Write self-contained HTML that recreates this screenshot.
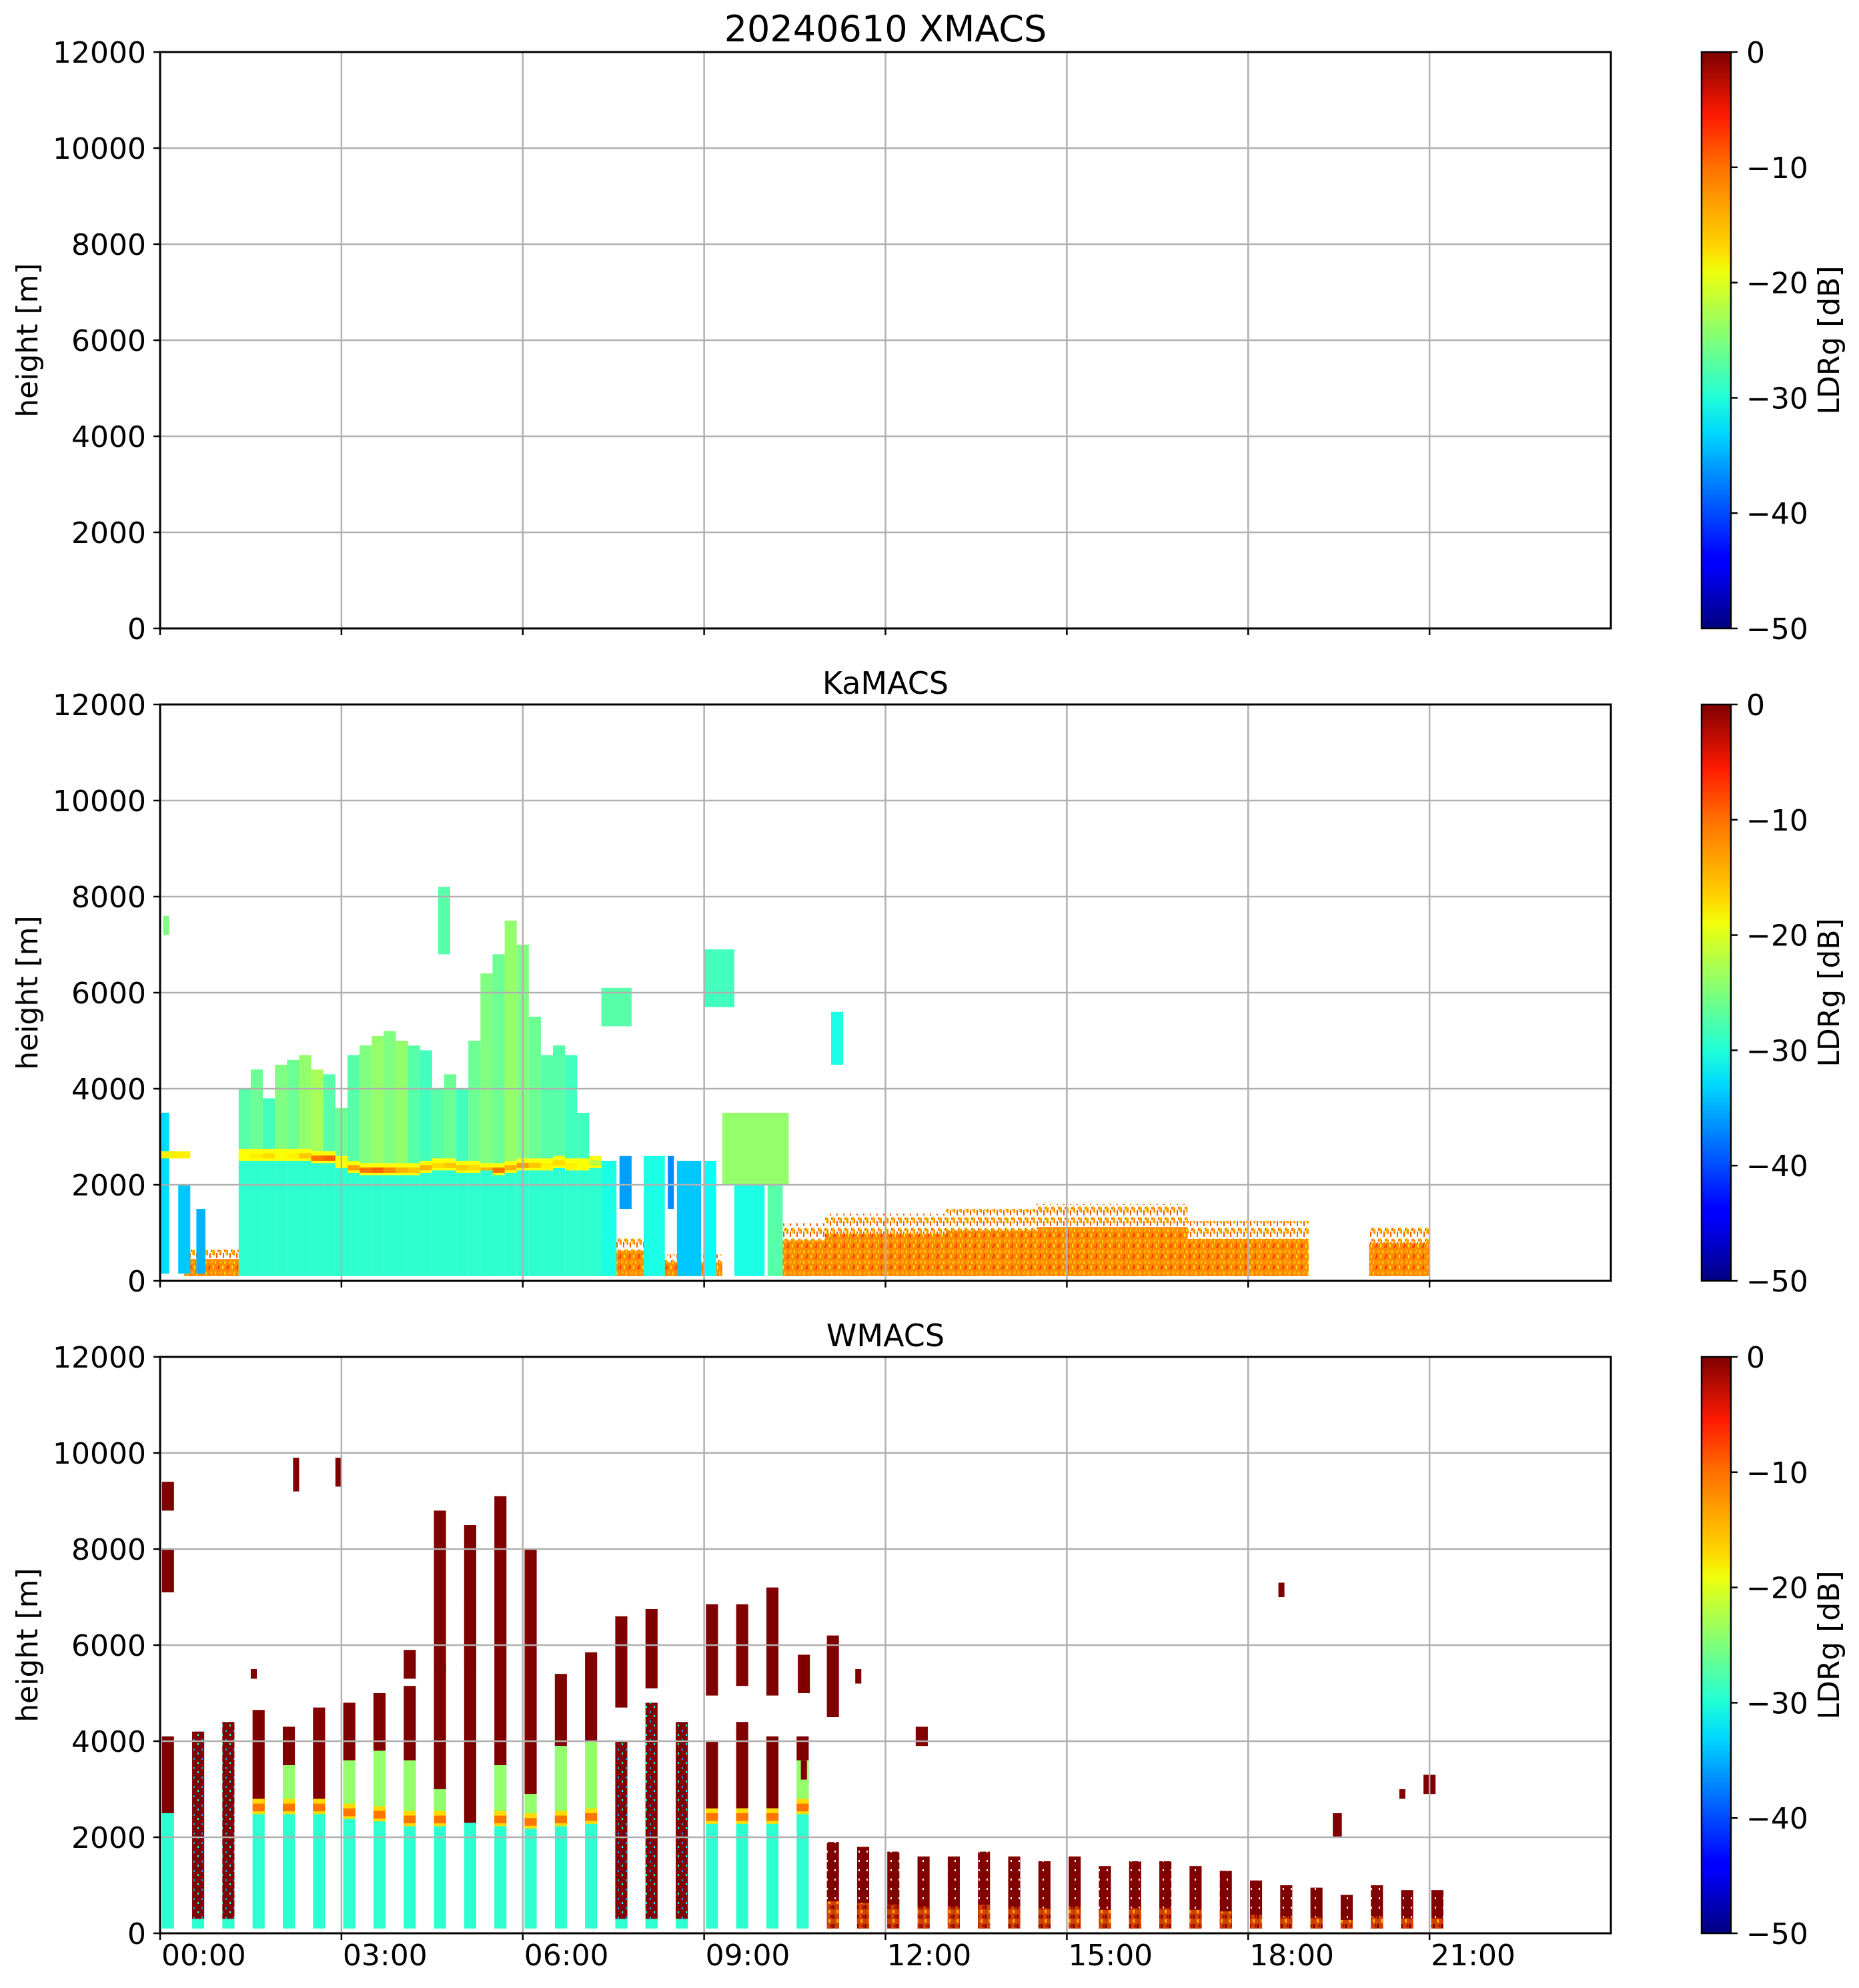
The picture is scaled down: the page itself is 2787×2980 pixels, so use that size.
<!DOCTYPE html>
<html><head><meta charset="utf-8">
<style>
html,body{margin:0;padding:0;background:#fff;}
svg{display:block;font-family:"DejaVu Sans","Liberation Sans",sans-serif;}
</style></head>
<body>
<svg id="fig" width="2787" height="2980" viewBox="0 0 2787 2980" xmlns="http://www.w3.org/2000/svg">
<defs>
<linearGradient id="jet" x1="0" y1="1" x2="0" y2="0">
<stop offset="0" stop-color="#00007f"/><stop offset="0.11" stop-color="#0000ff"/><stop offset="0.125" stop-color="#0000ff"/>
<stop offset="0.34" stop-color="#00d8ff"/><stop offset="0.4" stop-color="#1fffd8"/><stop offset="0.5" stop-color="#7dff7a"/>
<stop offset="0.62" stop-color="#f0ff0a"/><stop offset="0.66" stop-color="#ffd800"/><stop offset="0.8" stop-color="#ff7000"/>
<stop offset="0.89" stop-color="#ff1a00"/><stop offset="1" stop-color="#7f0000"/>
</linearGradient>
<pattern id="kaSpk" width="14" height="16" patternUnits="userSpaceOnUse">
<rect width="14" height="16" fill="#ff8a00"/><rect x="0" y="2" width="2" height="5" fill="#ffd000"/><rect x="5" y="8" width="2" height="6" fill="#ff3a00"/>
<rect x="9" y="1" width="2" height="4" fill="#ffb000"/><rect x="11" y="9" width="2" height="5" fill="#ffe600"/><rect x="3" y="12" width="2" height="3" fill="#ff5000"/><rect x="7" y="3" width="2" height="3" fill="#ffb000"/>
</pattern>
<pattern id="kaSpkLight" width="10" height="16" patternUnits="userSpaceOnUse">
<rect x="0" y="2" width="2" height="8" fill="#ff9000"/><rect x="4" y="6" width="2" height="8" fill="#ff5a00"/><rect x="8" y="0" width="2" height="9" fill="#ffc000"/><rect x="6" y="1" width="2" height="4" fill="#ff7000"/>
</pattern>
<pattern id="wMix" width="12" height="14" patternUnits="userSpaceOnUse">
<rect width="12" height="14" fill="#800000"/><rect x="2" y="3" width="2" height="3" fill="#1aa0ff"/><rect x="8" y="9" width="2" height="3" fill="#20ffe0"/>
</pattern>
<pattern id="wSpk" width="12" height="14" patternUnits="userSpaceOnUse">
<rect width="12" height="14" fill="#800000"/><rect x="3" y="2" width="2" height="3" fill="#ffffff"/>
</pattern>
<pattern id="wSpkLow" width="12" height="14" patternUnits="userSpaceOnUse">
<rect width="12" height="14" fill="#d04000"/><rect x="0" y="0" width="3" height="6" fill="#800000"/><rect x="6" y="7" width="3" height="5" fill="#ffb000"/><rect x="9" y="1" width="2" height="4" fill="#a00000"/>
</pattern>
</defs>
<g id="root"></g>
</svg>
<script>
// ---------- axis geometry ----------
const AX_L = 240, AX_R = 2415, AX_H = 864;
const PANEL_TOPS = [78, 1056, 2034];
const CB_L = 2551, CB_R = 2595;
const yTicks = [0, 2000, 4000, 6000, 8000, 10000, 12000];
const xTicksHour = [0, 3, 6, 9, 12, 15, 18, 21];
const xTickLabels = ["00:00", "03:00", "06:00", "09:00", "12:00", "15:00", "18:00", "21:00"];
const cbTicks = [0, -10, -20, -30, -40, -50];
const panelTitles = ["20240610 XMACS", "KaMACS", "WMACS"];

// ---------- KaMACS data ----------
const kaColT = [1.3,1.5,1.7,1.9,2.1,2.3,2.5,2.7,2.9,3.1,3.3,3.5,3.7,3.9,4.1,4.3,4.5,4.7,4.9,5.1,5.3,5.5,5.7,5.9,6.1,6.3,6.5,6.7,6.9,7.1];
const kaColTop = [4000,4400,3800,4500,4600,4700,4400,4300,3600,4700,4900,5100,5200,5000,4900,4800,4000,4300,4000,5000,6400,6800,7500,7000,5500,4700,4900,4700,3500,2600];
const kaColV = [-27,-26,-28,-25,-26,-24,-23,-27,-26,-27,-25,-24,-25,-24,-27,-28,-27,-26,-28,-26,-25,-26,-24,-25,-26,-27,-27,-28,-28,-29];
const kaMeltH = [2600,2600,2600,2600,2600,2600,2550,2550,2450,2350,2300,2300,2300,2300,2300,2350,2400,2400,2350,2350,2300,2300,2350,2400,2400,2400,2450,2400,2400,2450];
const kaMeltV = [-19,-18,-17,-19,-18,-16,-12,-11,-19,-14,-12,-11,-13,-15,-16,-15,-17,-16,-16,-17,-15,-12,-15,-14,-16,-18,-17,-18,-19,-22];
const kaPatchT0 = [0.0,0.3,0.6,0.0,7.3,7.6,8.0,8.4,8.55,9.0,9.5,10.05,9.3,9.0,11.1,7.3,4.6,0.05,5.3];
const kaPatchT1 = [0.15,0.5,0.75,0.5,7.55,7.8,8.35,8.5,8.95,9.2,10.0,10.3,10.4,9.5,11.3,7.8,4.8,0.15,5.5];
const kaPatchH0 = [150,150,150,2550,100,1500,100,1500,100,100,100,100,2000,5700,4500,5300,6800,7200,100];
const kaPatchH1 = [3500,2000,1500,2700,2500,2600,2600,2600,2500,2500,2500,2600,3500,6900,5600,6100,8200,7600,2300];
const kaPatchV = [-33,-34,-35,-18,-30,-36,-30,-37,-34,-31,-30,-27,-24,-28,-30,-27,-27,-25,-29];
const kaSpkT0 = [0.4,7.2,8.0,10.3,11.0,13.0,14.5,17.0,20.0];
const kaSpkT1 = [1.35,8.0,9.3,11.0,13.0,14.5,17.0,19.0,21.0];
const kaSpkTop = [650,900,550,1200,1400,1500,1600,1250,1120];

// ---------- WMACS data ----------
const wT = [0.03,0.53,1.03,1.53,2.03,2.53,3.03,3.53,4.03,4.53,5.03,5.53,6.03,6.53,7.03,7.53,8.03,8.53,9.03,9.53,10.03,10.53,11.03,11.53,
            12.03,12.53,13.03,13.53,14.03,14.53,15.03,15.53,16.03,16.53,17.03,17.53,18.03,18.53,19.03,19.53,20.03,20.53,21.03];
const wTop = [4100,4200,4400,4650,4300,4700,4800,5000,5150,8800,8500,9100,8000,5400,5850,4000,4800,4400,4000,4400,4100,4100,1900,1800,
              1700,1600,1600,1700,1600,1500,1600,1400,1500,1500,1400,1300,1100,1000,950,800,1000,900,900];
const wRedBot = [2500,300,300,2700,3500,2600,3600,3800,3600,3000,2300,3500,2900,3900,4000,300,300,300,2500,2600,2600,3600,0,0,
                 0,0,0,0,0,0,0,0,0,0,0,0,0,0,0,0,0,0,0];
const wMelt = [0,0,0,2600,2600,2600,2500,2450,2350,2350,0,2350,2300,2350,2400,0,0,0,2400,2400,2400,2600,0,0,
               0,0,0,0,0,0,0,0,0,0,0,0,0,0,0,0,0,0,0];
const wPatchT0 = [0.03,0.03,1.5,2.2,2.9,7.53,8.03,9.03,9.53,10.03,11.03,10.55,10.6,11.5,12.5,19.4,20.5,20.9,18.5,4.03,4.53,5.03];
const wPatchT1 = [0.23,0.23,1.6,2.3,3.0,7.73,8.23,9.23,9.73,10.23,11.23,10.75,10.7,11.6,12.7,19.55,20.6,21.1,18.6,4.23,4.73,5.23];
const wPatchH0 = [7100,8800,5300,9200,9300,4700,5100,4950,5150,4950,4500,5000,3200,5200,3900,2000,2800,2900,7000,5300,5400,5500];
const wPatchH1 = [8000,9400,5500,9900,9900,6600,6750,6850,6850,7200,6200,5800,3600,5500,4300,2500,3000,3300,7300,5900,5600,6900];

// ---------- helpers ----------
const NS = "http://www.w3.org/2000/svg";
const root = document.getElementById("root");
function X(t){ return AX_L + t / 24 * (AX_R - AX_L); }
function Y(p, h){ return PANEL_TOPS[p] + AX_H * (1 - h / 12000); }
function CBY(p, v){ return PANEL_TOPS[p] + AX_H * (-v / 50); }
function jet(v){
  const x = Math.max(0, Math.min(1, (v + 50) / 50));
  const r = Math.max(0, Math.min(1, Math.min(4*x - 1.5, -4*x + 4.5)));
  const g = Math.max(0, Math.min(1, Math.min(4*x - 0.5, -4*x + 3.5)));
  const b = Math.max(0, Math.min(1, Math.min(4*x + 0.5, -4*x + 2.5)));
  return "rgb(" + Math.round(r*255) + "," + Math.round(g*255) + "," + Math.round(b*255) + ")";
}
function el(tag, attrs, parent){
  const e = document.createElementNS(NS, tag);
  for (const k in attrs) e.setAttribute(k, attrs[k]);
  (parent || root).appendChild(e);
  return e;
}
function rect(p, t0, t1, h0, h1, fill, name, parent){
  const r = el("rect", {x: X(t0), y: Y(p, h1), width: Math.max(1, X(t1) - X(t0)), height: Math.max(1, Y(p, h0) - Y(p, h1)), fill: fill}, parent);
  
  
  return r;
}

for (let p = 0; p < 3; p++){
  const top = PANEL_TOPS[p];
  const g = el("g", {});
  
  
  const data = el("g", {}, g);
  
  

  if (p === 1){
    for (let i = 0; i < kaSpkT0.length; i++){
      rect(1, kaSpkT0[i], kaSpkT1[i], 100, kaSpkTop[i]*0.7, "url(#kaSpk)", "ka-precip-speckle", data);
      rect(1, kaSpkT0[i], kaSpkT1[i], kaSpkTop[i]*0.7, kaSpkTop[i], "url(#kaSpkLight)", "ka-precip-speckle-top", data);
    }
    for (let i = 0; i < kaColT.length; i++){
      const t0 = kaColT[i], t1 = t0 + 0.2;
      rect(1, t0, t1, 100, kaMeltH[i] - 100, jet(-29), "ka-cyan-base", data);
      rect(1, t0, t1, kaMeltH[i] + 150, kaColTop[i], jet(kaColV[i]), "ka-ice-cloud", data);
      rect(1, t0, t1, kaMeltH[i] - 100, kaMeltH[i] + 150, jet(-19), "ka-melting-band", data);
      rect(1, t0, t1, kaMeltH[i] - 50, kaMeltH[i] + 60, jet(kaMeltV[i]), "ka-melting-core", data);
    }
    for (let i = 0; i < kaPatchT0.length; i++){
      rect(1, kaPatchT0[i], kaPatchT1[i], kaPatchH0[i], kaPatchH1[i], jet(kaPatchV[i]), "ka-cloud-patch", data);
    }
  }
  if (p === 2){
    for (let i = 0; i < wT.length; i++){
      const t0 = wT[i], t1 = t0 + 0.2;
      if (i >= 22){
        rect(2, t0, t1, 100, wTop[i], "url(#wSpk)", "w-stripe-speckle", data);
        rect(2, t0, t1, 100, wTop[i]*0.35, "url(#wSpkLow)", "w-stripe-speckle-low", data);
        continue;
      }
      const rb = Math.max(100, wRedBot[i]);
      if (rb > 100) rect(2, t0, t1, 100, rb, jet(-29), "w-cyan-column", data);
      rect(2, t0, t1, rb, wTop[i], rb > 400 ? "#800000" : "url(#wMix)", "w-red-column", data);
      if (wMelt[i] > 0){
        rect(2, t0, t1, wMelt[i] + 200, Math.min(rb, wTop[i]), jet(-24), "w-above-melt", data);
        rect(2, t0, t1, wMelt[i] - 120, wMelt[i] + 200, jet(-17), "w-melting-band", data);
        rect(2, t0, t1, wMelt[i] - 60, wMelt[i] + 100, jet(-12), "w-melting-core", data);
      }
    }
    for (let i = 0; i < wPatchT0.length; i++){
      rect(2, wPatchT0[i], wPatchT1[i], wPatchH0[i], wPatchH1[i], "#800000", "w-red-patch", data);
    }
  }

  const grid = el("g", {stroke: "#b0b0b0", "stroke-width": 2.5}, g);
  
  
  for (const h of yTicks){ if (h === 0 || h === 12000) continue; el("line", {x1: AX_L, x2: AX_R, y1: Y(p,h), y2: Y(p,h)}, grid); }
  for (const t of xTicksHour){ if (t === 0) continue; el("line", {x1: X(t), x2: X(t), y1: top, y2: top + AX_H}, grid); }

  const fr = el("rect", {x: AX_L, y: top, width: AX_R - AX_L, height: AX_H, fill: "none", stroke: "#000", "stroke-width": 3}, g);
  
  

  for (const h of yTicks){
    const y = Y(p, h);
    el("line", {x1: AX_L - 10, x2: AX_L, y1: y, y2: y, stroke: "#000", "stroke-width": 2.5}, g);
    const tx = el("text", {x: 219, y: y + 16, "font-size": 44, "text-anchor": "end"}, g);
    tx.textContent = h;
    
    
  }
  for (let i = 0; i < xTicksHour.length; i++){
    const x = X(xTicksHour[i]);
    el("line", {x1: x, x2: x, y1: top + AX_H, y2: top + AX_H + 10, stroke: "#000", "stroke-width": 2.5}, g);
    if (p === 2){
      const tx = el("text", {x: x + 2, y: top + AX_H + 48, "font-size": 44}, g);
      tx.textContent = xTickLabels[i];
      
      
    }
  }
  const yl = el("text", {x: 0, y: 0, "font-size": 44, "text-anchor": "middle", transform: "translate(56," + (top + AX_H/2) + ") rotate(-90)"}, g);
  yl.textContent = "height [m]";
  
  
  const tt = el("text", {x: (AX_L + AX_R)/2, y: top - 16, "font-size": p === 0 ? 54 : 46, "text-anchor": "middle"}, g);
  tt.textContent = panelTitles[p];
  
  

  const cb = el("g", {}, g);
  
  
  el("rect", {x: CB_L, y: top, width: CB_R - CB_L, height: AX_H, fill: "url(#jet)", stroke: "#000", "stroke-width": 2.5}, cb);
  for (const v of cbTicks){
    const y = CBY(p, v);
    el("line", {x1: CB_R, x2: CB_R + 10, y1: y, y2: y, stroke: "#000", "stroke-width": 2.5}, cb);
    const tx = el("text", {x: 2618, y: y + 16, "font-size": 44}, cb);
    tx.textContent = v === 0 ? "0" : "\u2212" + (-v);
    
    
  }
  const cl = el("text", {x: 0, y: 0, "font-size": 44, "text-anchor": "middle", transform: "translate(2757," + (top + AX_H/2) + ") rotate(-90)"}, cb);
  cl.textContent = "LDRg [dB]";
  
  
}
</script>
</body></html>
